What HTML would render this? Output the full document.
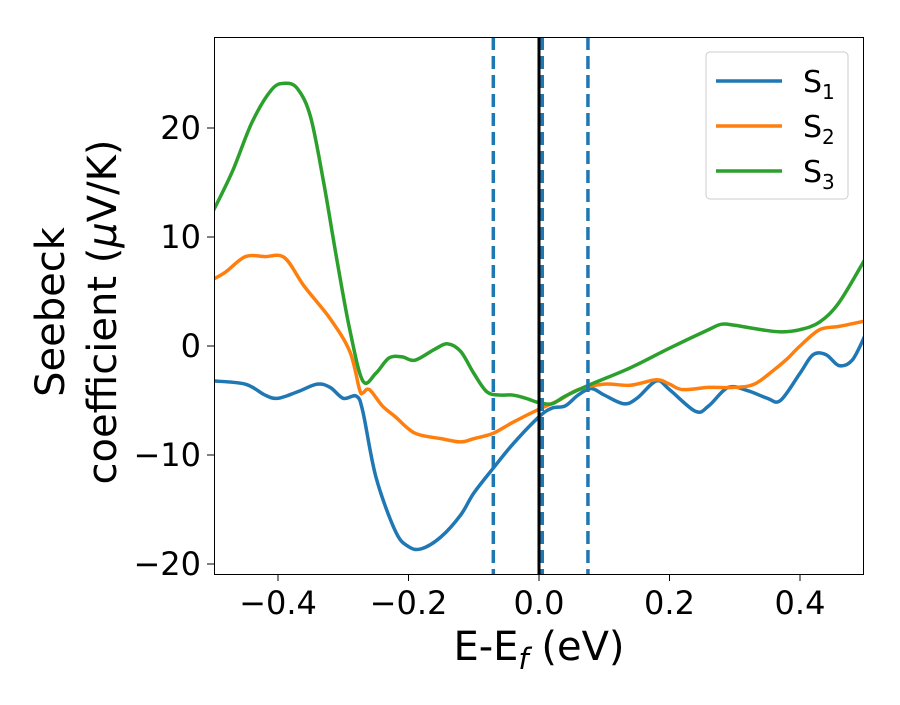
<!DOCTYPE html>
<html><head><meta charset="utf-8"><style>
body{margin:0;background:#fff;}
text{font-family:"DejaVu Sans","Liberation Sans",sans-serif;fill:#000;}
</style></head><body>
<svg id="chart" width="900" height="700">
<g id="marks"></g>
<rect x="214.5" y="37.5" width="649" height="537" fill="none" stroke="#000" stroke-width="1"/>
<g id="axes"></g>
<text x="539" y="660" font-size="40" text-anchor="middle">E-E<tspan font-style="italic" font-size="29" dy="9">f</tspan><tspan dy="-9"> (eV)</tspan></text>
<g transform="translate(64,312) rotate(-90)">
<text x="0" y="0" font-size="40" text-anchor="middle">Seebeck</text>
<text x="0" y="52" font-size="40" text-anchor="middle">coefficient  (<tspan font-style="italic">μ</tspan>V/K)</text>
</g>
<g>
<rect x="706" y="52" width="142" height="147" rx="4" fill="#fff" stroke="#ccc"/>
<g id="legend-items"></g>
</g>
</svg>
<script>
const xTicks=[-0.4,-0.2,0.0,0.2,0.4];
const xTickLabels=["\u22120.4","\u22120.2","0.0","0.2","0.4"];
const yTicks=[-20,-10,0,10,20];
const yTickLabels=["\u221220","\u221210","0","10","20"];
const seriesNames=["S1","S2","S3"];
const s1x=[-0.5,-0.45,-0.42,-0.4,-0.37,-0.34,-0.32,-0.3,-0.28,-0.27,-0.25,-0.22,-0.2,-0.18,-0.15,-0.12,-0.1,-0.07,-0.04,0,0.02,0.04,0.06,0.08,0.1,0.13,0.15,0.18,0.2,0.24,0.26,0.29,0.32,0.35,0.37,0.4,0.42,0.44,0.46,0.48,0.5];
const s1y=[-3.2,-3.5,-4.5,-4.8,-4.2,-3.5,-3.8,-4.8,-4.6,-6,-12,-17,-18.4,-18.6,-17.5,-15.5,-13.5,-11.2,-9,-6.5,-5.7,-5.5,-4.5,-3.9,-4.5,-5.3,-4.8,-3.2,-4,-6,-5.5,-3.8,-4.1,-4.8,-5,-2.5,-0.8,-0.8,-1.8,-1.3,1];
const s2x=[-0.5,-0.48,-0.45,-0.42,-0.39,-0.36,-0.32,-0.29,-0.275,-0.27,-0.26,-0.24,-0.22,-0.19,-0.15,-0.12,-0.1,-0.07,-0.04,0,0.03,0.06,0.1,0.14,0.18,0.2,0.22,0.26,0.3,0.33,0.36,0.38,0.4,0.43,0.46,0.5];
const s2y=[6.1,6.8,8.2,8.2,8.1,5.5,2.5,-0.5,-4,-4.3,-4,-5.5,-6.5,-8,-8.5,-8.8,-8.5,-8,-7,-5.8,-5,-4,-3.5,-3.6,-3.1,-3.5,-4,-3.8,-3.8,-3.5,-2.2,-1.2,0,1.5,1.8,2.3];
const s3x=[-0.5,-0.47,-0.44,-0.41,-0.39,-0.37,-0.35,-0.33,-0.31,-0.29,-0.27,-0.25,-0.23,-0.21,-0.19,-0.16,-0.14,-0.12,-0.1,-0.08,-0.06,-0.04,-0.02,0,0.02,0.04,0.08,0.14,0.2,0.26,0.28,0.3,0.34,0.37,0.4,0.43,0.46,0.5];
const s3y=[12.3,16,20.5,23.5,24.1,23.6,21,15,8,1.5,-3.2,-2.5,-1.1,-1.0,-1.3,-0.3,0.2,-0.5,-2.5,-4.2,-4.5,-4.5,-4.8,-5.2,-5.3,-4.6,-3.5,-2,-0.2,1.5,2,1.9,1.5,1.3,1.5,2.2,4,8];
const dashedLines=[-0.07,0.005,0.075];
const colors=["#1f77b4","#ff7f0e","#2ca02c"];
const NS="http://www.w3.org/2000/svg";
function X(v){return 539+v*652.5;}
function Y(v){return 346-v*10.9;}
const marks=document.getElementById('marks');
const axes=document.getElementById('axes');
function mk(tag,attrs,parent){const e=document.createElementNS(NS,tag);for(const k in attrs)e.setAttribute(k,attrs[k]);parent.appendChild(e);return e;}
function smooth(xs,ys){const p=xs.map((x,i)=>[X(x),Y(ys[i])]);let d="M"+p[0][0]+","+p[0][1];
for(let i=0;i<p.length-1;i++){const p0=p[Math.max(0,i-1)],p1=p[i],p2=p[i+1],p3=p[Math.min(p.length-1,i+2)];
const c1=[p1[0]+(p2[0]-p0[0])/6,p1[1]+(p2[1]-p0[1])/6],c2=[p2[0]-(p3[0]-p1[0])/6,p2[1]-(p3[1]-p1[1])/6];
d+=" C"+c1+" "+c2+" "+p2;}return d;}
const cp=mk('clipPath',{id:'cp'},marks);mk('rect',{x:214.5,y:37.5,width:649,height:537},cp);
const g=mk('g',{'clip-path':'url(#cp)'},marks);
const data=[[s1x,s1y],[s2x,s2y],[s3x,s3y]];
data.forEach((s,i)=>{const p=mk('path',{d:smooth(s[0],s[1]),fill:'none',stroke:colors[i],'stroke-width':3.5},g);

});
const vl=mk('line',{x1:X(0),x2:X(0),y1:37,y2:574,stroke:'#000','stroke-width':3},g);


dashedLines.forEach(v=>{const l=mk('line',{x1:X(v),x2:X(v),y1:37,y2:574,stroke:'#1f77b4','stroke-width':3.5,'stroke-dasharray':'13,6'},g);

});
xTicks.forEach((v,i)=>{mk('line',{x1:X(v),x2:X(v),y1:574,y2:581,stroke:'#000'},axes);
const t=mk('text',{x:X(v),y:614,'font-size':32,'text-anchor':'middle'},axes);t.textContent=xTickLabels[i];

});
yTicks.forEach((v,i)=>{mk('line',{x1:207,x2:214,y1:Y(v),y2:Y(v),stroke:'#000'},axes);
const t=mk('text',{x:201,y:Y(v)+11,'font-size':32,'text-anchor':'end'},axes);t.textContent=yTickLabels[i];

});
const lg=document.getElementById('legend-items');
seriesNames.forEach((n,i)=>{const y=81+i*45;
mk('line',{x1:716,x2:782,y1:y,y2:y,stroke:colors[i],'stroke-width':3.5},lg);
const t=mk('text',{x:803,y:y+11,'font-size':30},lg);


t.textContent='S';const ts=document.createElementNS(NS,'tspan');ts.setAttribute('font-size','20');ts.setAttribute('dy','7');ts.textContent=n.slice(1);t.appendChild(ts);});
</script>
</body></html>
